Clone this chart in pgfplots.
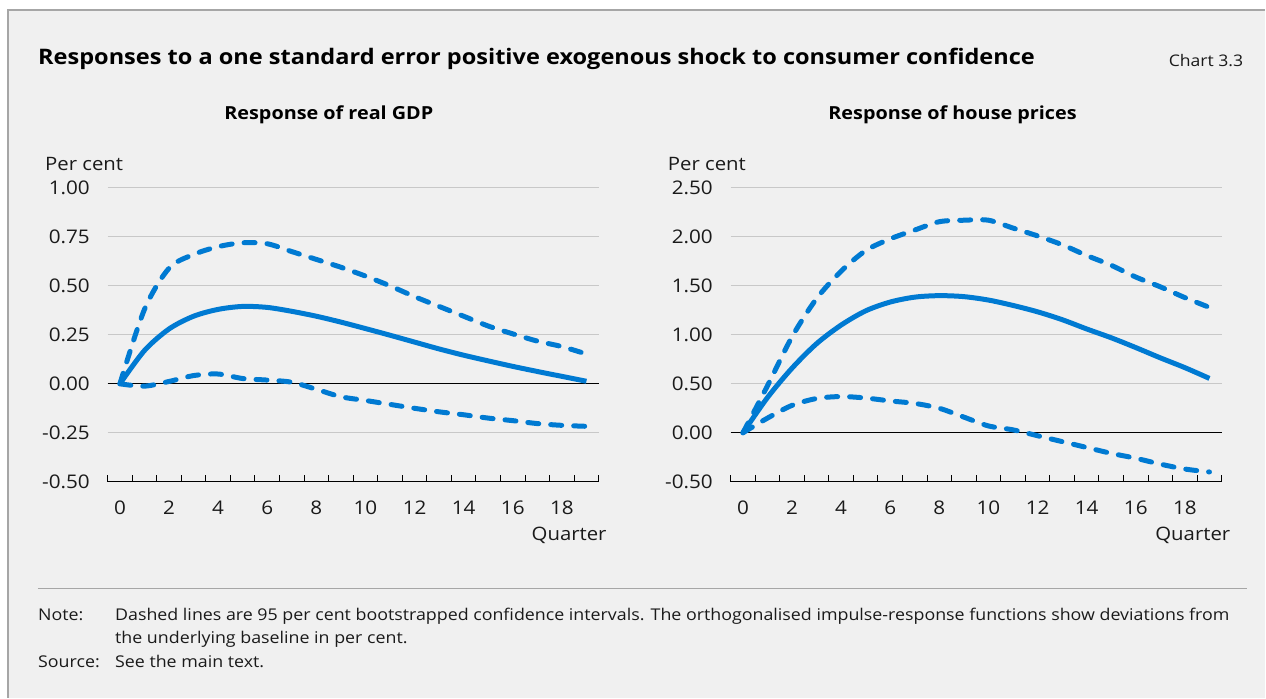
\documentclass[border=0pt]{standalone}
\usepackage{fontspec}
\setmainfont{Open Sans}[FakeStretch=1.1]
\usepackage{pgfplots}
\usepackage{pgfplotstable}
\pgfplotsset{compat=1.18}
\definecolor{bg}{HTML}{F0F0F0}
\definecolor{ln}{RGB}{0,122,210}
\definecolor{grd}{HTML}{C8C8C8}
\definecolor{frm}{HTML}{A6A6A6}
\definecolor{txt}{HTML}{1A1A1A}

\pgfplotstableread{
q mid up lo
0 0 0 0
1 0.17 0.38 -0.012
2 0.28 0.59 0.012
3 0.345 0.66 0.042
4 0.38 0.70 0.05
5 0.395 0.72 0.027
6 0.39 0.715 0.019
7 0.37 0.675 0.008
8 0.345 0.635 -0.028
9 0.315 0.595 -0.066
10 0.282 0.55 -0.085
11 0.248 0.50 -0.105
12 0.213 0.445 -0.125
13 0.178 0.395 -0.143
14 0.146 0.345 -0.158
15 0.117 0.295 -0.175
16 0.089 0.255 -0.188
17 0.063 0.218 -0.203
18 0.038 0.19 -0.212
19 0.013 0.152 -0.217
}\gdp

\pgfplotstableread{
q mid up lo
0 0 0 0
1 0.36 0.48 0.15
2 0.66 0.98 0.28
3 0.91 1.37 0.35
4 1.10 1.65 0.37
5 1.245 1.86 0.355
6 1.335 1.98 0.325
7 1.385 2.07 0.30
8 1.40 2.155 0.25
9 1.39 2.17 0.16
10 1.355 2.17 0.07
11 1.30 2.09 0.03
12 1.235 2.01 -0.03
13 1.155 1.92 -0.09
14 1.06 1.81 -0.15
15 0.97 1.71 -0.21
16 0.87 1.59 -0.26
17 0.765 1.49 -0.32
18 0.665 1.38 -0.37
19 0.555 1.28 -0.40
}\house

\pgfplotsset{
 panel/.style={
  scale only axis, width=491.3pt, height=294pt, anchor=south west,
  xmin=-0.5, xmax=19.5,
  axis x line*=bottom, axis y line*=left,
  y axis line style={draw=none},
  x axis line style={black, line width=1pt},
  xtick={-0.5,0.5,...,19.5}, xticklabels={},
  xtick align=inside, major tick length=7pt,
  xtick style={black, line width=1pt},
  ytick style={draw=none},
  extra x ticks={0,2,...,18},
  extra x tick labels={0,2,4,6,8,10,12,14,16,18},
  extra x tick style={major tick length=0pt},
  ymajorgrids, grid style={grd, line width=1pt},
  extra y ticks={0}, extra y tick labels={},
  extra y tick style={grid style={black, line width=1pt}},
  tick label style={font=\fontsize{18.8}{19}\selectfont, text=txt},
  xticklabel style={anchor=center, yshift=-26pt},
  yticklabel style={anchor=east, inner sep=0pt, xshift=-17.7pt},
 },
 ser/.style={line width=5pt, ln, smooth, line join=round, mark=none},
 dsh/.style={ser, dash pattern=on 11pt off 12pt, line cap=round},
}

\begin{document}
\begin{tikzpicture}
\fill[white] (0pt,0pt) rectangle (1266pt,698pt);
\fill[bg] (8pt,0pt) rectangle (1266pt,688pt);
\draw[frm, line width=1.2pt] (8pt,0pt) -- (8pt,688pt) -- (1266pt,688pt);
\node[anchor=base west, inner sep=0pt, font=\bfseries\fontsize{21.4}{22}\selectfont, text=black] at (38pt,633pt) {Responses to a one standard error positive exogenous shock to consumer confidence};
\node[anchor=base east, inner sep=0pt, font=\fontsize{16}{16}\selectfont, text=txt] at (1244pt,631.3pt) {Chart 3.3};
\node[font=\bfseries\fontsize{18}{18}\selectfont, text=black] at (329pt,583pt) {Response of real GDP};
\node[font=\bfseries\fontsize{18}{18}\selectfont, text=black] at (953pt,583pt) {Response of house prices};
\node[anchor=base west, inner sep=0pt, font=\fontsize{18.5}{19}\selectfont, text=txt] at (45pt,527pt) {Per cent};
\node[anchor=base west, inner sep=0pt, font=\fontsize{18.5}{19}\selectfont, text=txt] at (668pt,527pt) {Per cent};

\begin{axis}[panel, at={(107.7pt,216pt)}, ymin=-0.5, ymax=1,
  ytick={-0.5,-0.25,0,0.25,0.5,0.75,1},
  yticklabels={-0.50,-0.25,0.00,0.25,0.50,0.75,1.00}]
\addplot[dsh] table[x=q,y=lo]{\gdp};
\addplot[dsh] table[x=q,y=up]{\gdp};
\addplot[ser] table[x=q,y=mid]{\gdp};
\end{axis}

\begin{axis}[panel, at={(731pt,216pt)}, ymin=-0.5, ymax=2.5,
  ytick={-0.5,0,0.5,1,1.5,2,2.5},
  yticklabels={-0.50,0.00,0.50,1.00,1.50,2.00,2.50}]
\addplot[dsh] table[x=q,y=lo]{\house};
\addplot[dsh] table[x=q,y=up]{\house};
\addplot[ser] table[x=q,y=mid]{\house};
\end{axis}

\node[anchor=base east, inner sep=0pt, font=\fontsize{18.5}{19}\selectfont, text=txt] at (607pt,157pt) {Quarter};
\node[anchor=base east, inner sep=0pt, font=\fontsize{18.5}{19}\selectfont, text=txt] at (1231pt,157pt) {Quarter};

\draw[frm, line width=1.2pt] (38pt,109pt) -- (1248pt,109pt);
\begin{scope}[every node/.style={anchor=base west, inner sep=0pt, font=\fontsize{16.2}{16}\selectfont, text=txt}]
\node at (38pt,77.5pt) {Note:};
\node at (115pt,77.5pt) {Dashed lines are 95 per cent bootstrapped confidence intervals. The orthogonalised impulse-response functions show deviations from};
\node at (115pt,54pt) {the underlying baseline in per cent.};
\node at (38pt,30.5pt) {Source:};
\node at (115pt,30.5pt) {See the main text.};
\end{scope}
\end{tikzpicture}
\end{document}
